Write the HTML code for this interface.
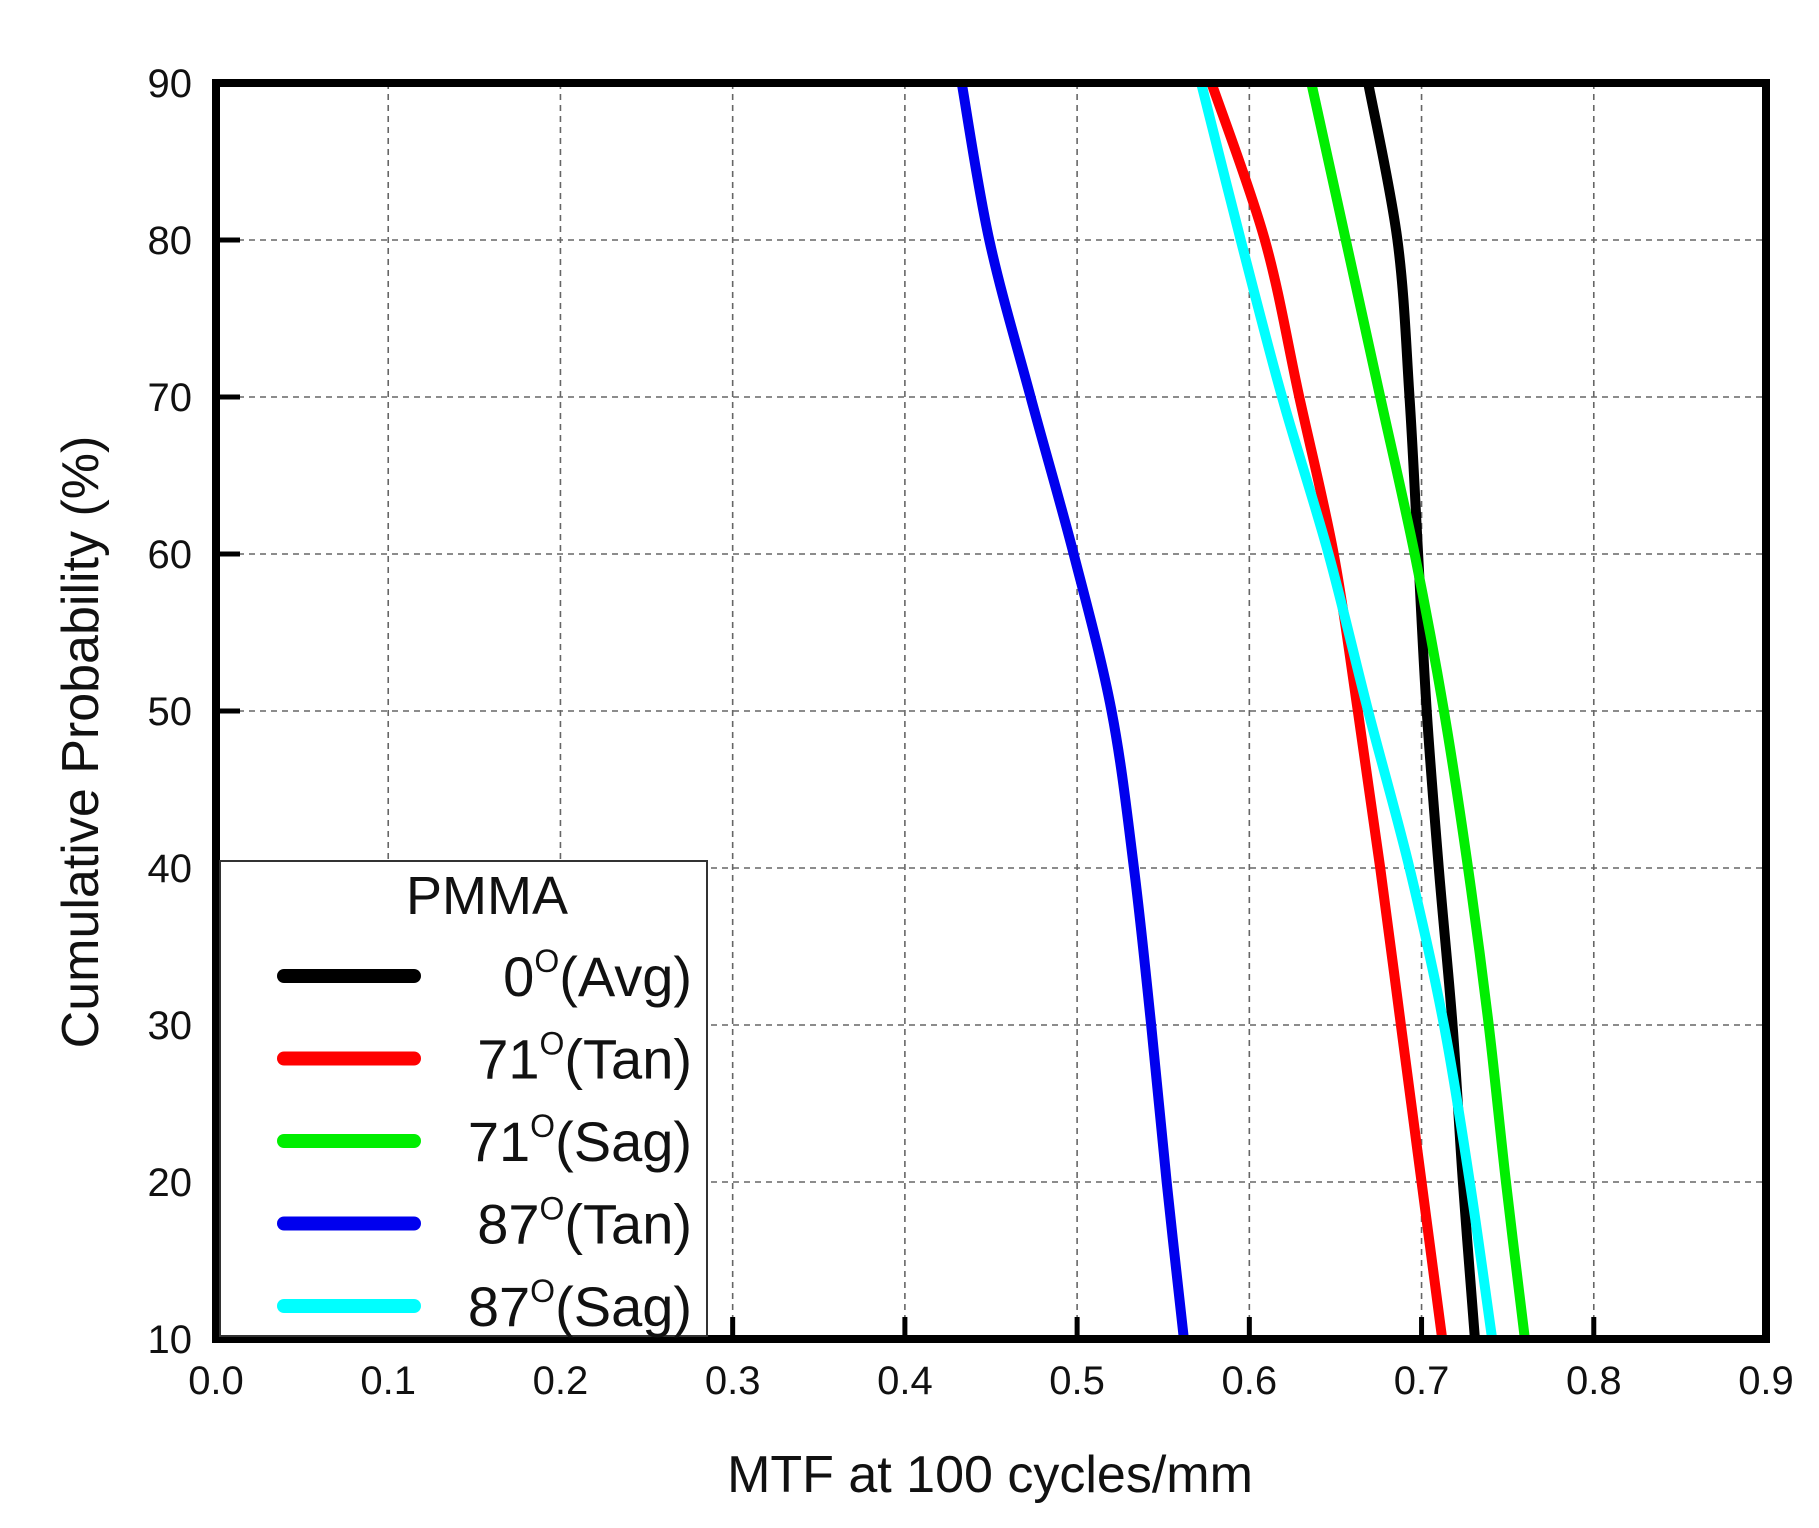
<!DOCTYPE html>
<html><head><meta charset="utf-8"><style>
html,body{margin:0;padding:0;background:#fff}
svg{display:block;font-family:"Liberation Sans",Arial,sans-serif}
</style></head><body>
<svg id="chart" width="1819" height="1528" viewBox="0 0 1819 1528" xmlns="http://www.w3.org/2000/svg">
<defs><clipPath id="plotclip"><rect x="216" y="83" width="1550" height="1256"/></clipPath></defs>
<g id="grid"></g>
<g id="series" clip-path="url(#plotclip)"></g>
<g id="axes"></g>
<g id="legend"></g>
</svg>
<script>
const xTicks=[0,0.1,0.2,0.3,0.4,0.5,0.6,0.7,0.8,0.9];
const xTickLabels=["0.0","0.1","0.2","0.3","0.4","0.5","0.6","0.7","0.8","0.9"];
const yTicks=[10,20,30,40,50,60,70,80,90];
const probLevels=[90,80,70,60,50,40,30,20,10];
const seriesNames=["0°(Avg)","71°(Tan)","71°(Sag)","87°(Tan)","87°(Sag)"];
const avg0=[0.669,0.686,0.693,0.698,0.703,0.710,0.718,0.724,0.731];
const tan71=[0.578,0.609,0.629,0.649,0.663,0.676,0.688,0.700,0.712];
const sag71=[0.636,0.656,0.676,0.696,0.713,0.727,0.739,0.749,0.760];
const tan87=[0.433,0.449,0.473,0.498,0.520,0.533,0.543,0.552,0.562];
const sag87=[0.572,0.595,0.619,0.646,0.669,0.693,0.713,0.728,0.741];
const colors=["#000","#ff0000","#00ee00","#0000ee","#00ffff"];
const allSeries=[avg0,tan71,sag71,tan87,sag87];
const slugs=["avg-0","tan-71","sag-71","tan-87","sag-87"];

const X0=216,X1=1766,Y0=1339,Y1=83;
const sx=v=>X0+(v-0)/(0.9)*(X1-X0);
const sy=v=>Y0-(v-10)/80*(Y0-Y1);
const NS="http://www.w3.org/2000/svg";
function mk(tag,attrs,parent){const e=document.createElementNS(NS,tag);for(const k in attrs)e.setAttribute(k,attrs[k]);parent.appendChild(e);return e;}
const grid=document.getElementById('grid'),axes=document.getElementById('axes'),ser=document.getElementById('series'),leg=document.getElementById('legend');

xTicks.forEach((t,i)=>{
  if(i>0&&i<xTicks.length-1){const l=mk('line',{x1:sx(t),x2:sx(t),y1:Y1,y2:Y0,stroke:'#666','stroke-width':1.6,'stroke-dasharray':'6,5'},grid);
  
  const tk=mk('line',{x1:sx(t),x2:sx(t),y1:Y0,y2:Y0-22,stroke:'#000','stroke-width':5},axes);
  }
  const tx=mk('text',{x:sx(t),y:1394,'text-anchor':'middle','font-size':40,fill:'#111'},axes);tx.textContent=xTickLabels[i];
  
});
yTicks.forEach(t=>{
  if(t>10&&t<90){const l=mk('line',{x1:X0,x2:X1,y1:sy(t),y2:sy(t),stroke:'#666','stroke-width':1.6,'stroke-dasharray':'6,5'},grid);
  
  const tk=mk('line',{x1:X0,x2:X0+24,y1:sy(t),y2:sy(t),stroke:'#000','stroke-width':5},axes);
  }
  const tx=mk('text',{x:192,y:sy(t)+14,'text-anchor':'end','font-size':40,fill:'#111'},axes);tx.textContent=String(t);
  
});

function smooth(pts){let d=`M${pts[0][0]},${pts[0][1]}`;for(let i=0;i<pts.length-1;i++){const p0=pts[Math.max(i-1,0)],p1=pts[i],p2=pts[i+1],p3=pts[Math.min(i+2,pts.length-1)];
 d+=` C${p1[0]+(p2[0]-p0[0])/6},${p1[1]+(p2[1]-p0[1])/6} ${p2[0]-(p3[0]-p1[0])/6},${p2[1]-(p3[1]-p1[1])/6} ${p2[0]},${p2[1]}`;}return d;}
allSeries.forEach((s,i)=>{
  const pts=s.map((v,j)=>[sx(v),sy(probLevels[j])]);
  const p=mk('path',{d:smooth(pts),fill:'none',stroke:colors[i],'stroke-width':10,'stroke-linecap':'round'},ser);
  
});

const frame=mk('rect',{x:X0,y:Y1,width:X1-X0,height:Y0-Y1,fill:'none',stroke:'#000','stroke-width':8},axes);


const xt=mk('text',{x:990,y:1492,'text-anchor':'middle','font-size':52,fill:'#111'},axes);xt.textContent='MTF at 100 cycles/mm';

const yt=mk('text',{x:0,y:0,'text-anchor':'middle','font-size':52,fill:'#111',transform:'translate(98,742) rotate(-90)'},axes);yt.textContent='Cumulative Probability (%)';


const lb=mk('rect',{x:220,y:861,width:487,height:475,fill:'#fff',stroke:'#333','stroke-width':2},leg);

const lt=mk('text',{x:487,y:914,'text-anchor':'middle','font-size':54,fill:'#111'},leg);lt.textContent='PMMA';

const labNum=["0","71","71","87","87"],labRest=["(Avg)","(Tan)","(Sag)","(Tan)","(Sag)"];
seriesNames.forEach((n,i)=>{
  const y=976+i*82.5;
  const g=mk('g',{},leg);
  const l=mk('line',{x1:284,x2:414,y1:y,y2:y,stroke:colors[i],'stroke-width':14,'stroke-linecap':'round'},g);
  
  const t=mk('text',{x:692,y:y+20,'text-anchor':'end','font-size':56,fill:'#111'},g);
  
  const a=mk('tspan',{},t);a.textContent=labNum[i];
  const b=mk('tspan',{dy:-24,'font-size':32},t);b.textContent='O';
  const c=mk('tspan',{dy:24},t);c.textContent=labRest[i];
});
</script>
</body></html>
